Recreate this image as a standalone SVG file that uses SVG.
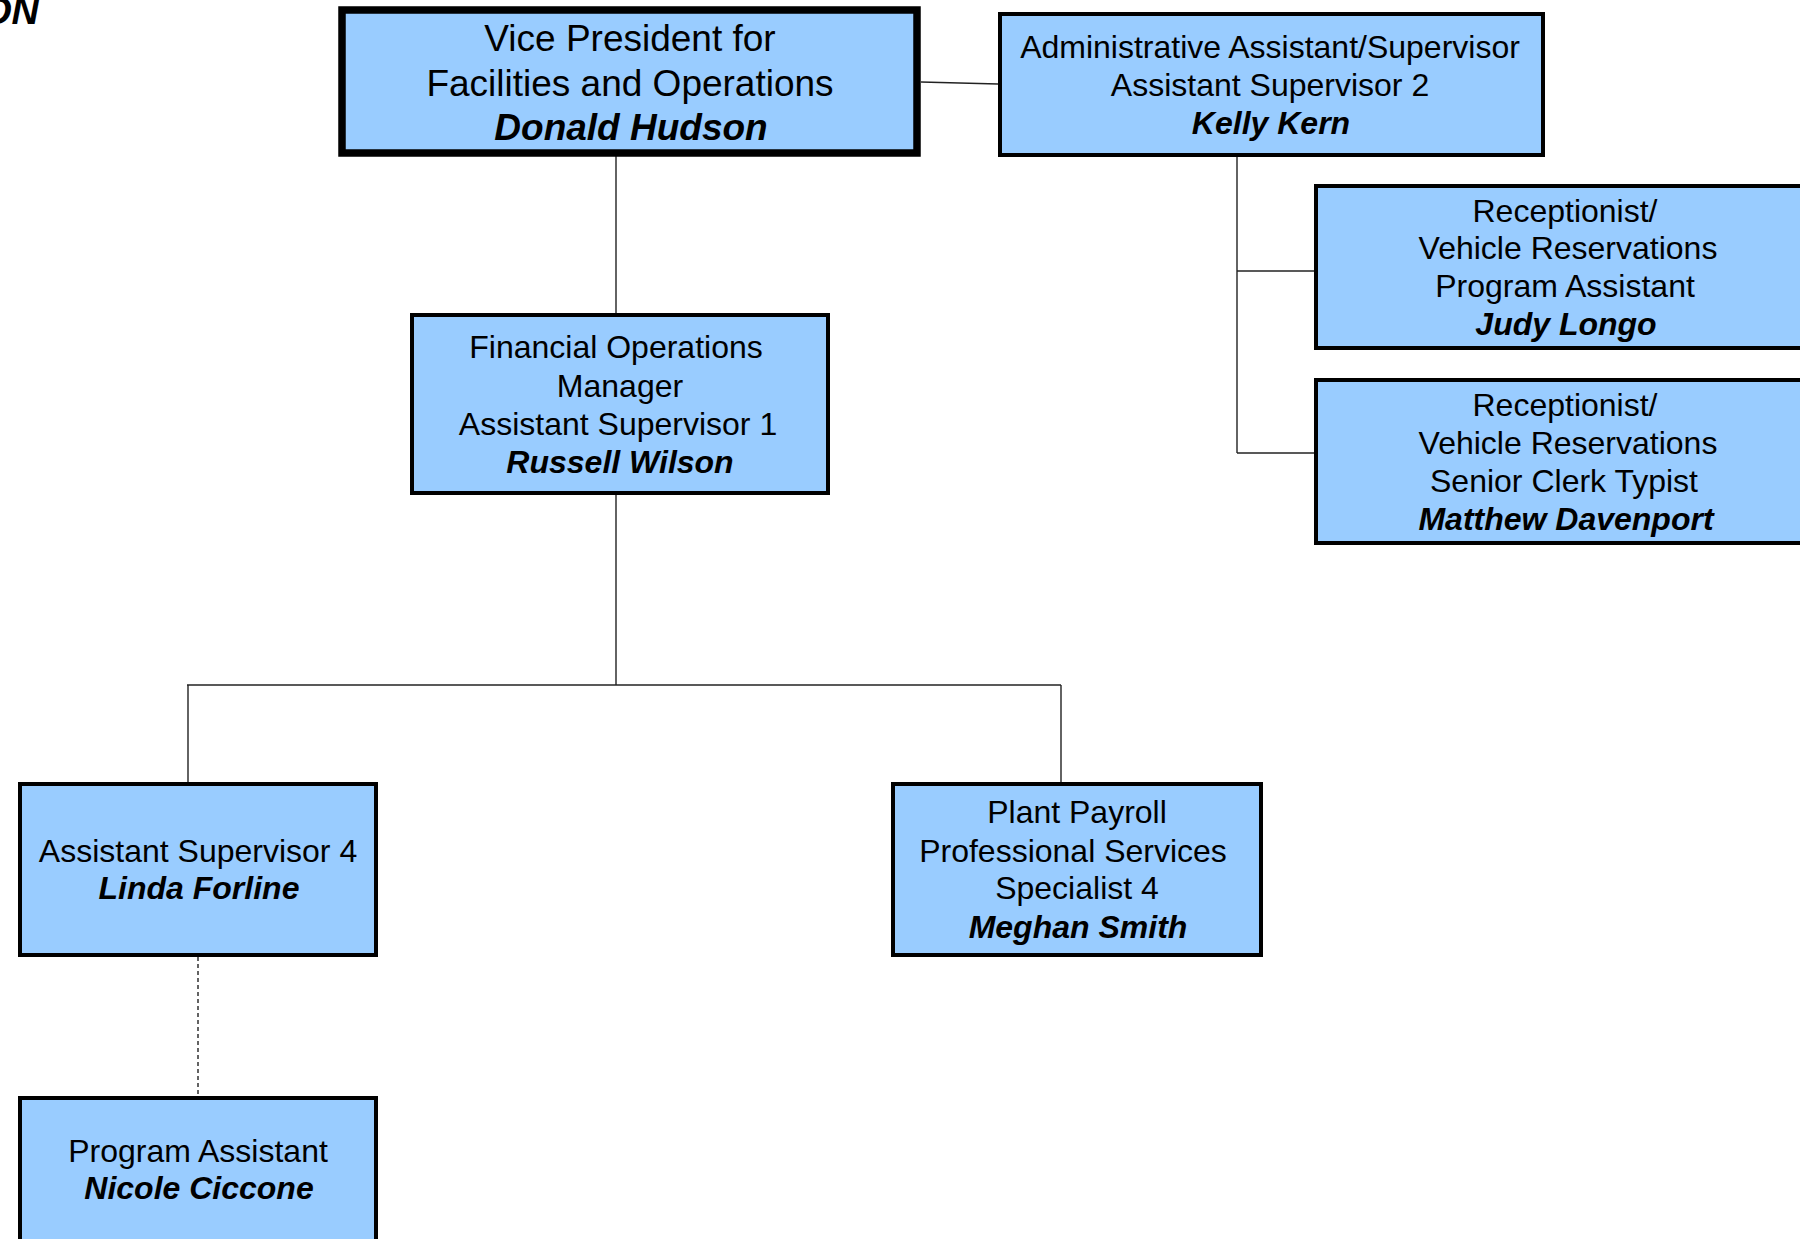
<svg xmlns="http://www.w3.org/2000/svg" width="1800" height="1239" viewBox="0 0 1800 1239">
<style>
  .box { fill: #99CCFF; stroke: #000; stroke-width: 4; }
  .vp { stroke-width: 7.5; }
  .t { font-family: "Liberation Sans", Arial, sans-serif; font-size: 32px; fill: #000; text-anchor: middle; }
  .vt { font-size: 37px; }
  .n { font-weight: bold; font-style: italic; }
  .c { stroke: #222; stroke-width: 1.4; fill: none; }
  .d { stroke-dasharray: 4 3; }
</style>
<rect width="1800" height="1239" fill="#fff"/>
<text x="39" y="24" class="t n" style="font-size:38px;text-anchor:end">ON</text>
<g id="connectors">
  <line class="c" x1="921" y1="82" x2="998" y2="84"/>
  <line class="c" x1="616" y1="156" x2="616" y2="313"/>
  <line class="c" x1="1237" y1="157" x2="1237" y2="453"/>
  <line class="c" x1="1237" y1="271" x2="1314" y2="271"/>
  <line class="c" x1="1237" y1="453" x2="1314" y2="453"/>
  <line class="c" x1="616" y1="495" x2="616" y2="685"/>
  <line class="c" x1="187" y1="685" x2="1061" y2="685"/>
  <line class="c" x1="188" y1="685" x2="188" y2="782"/>
  <line class="c" x1="1061" y1="685" x2="1061" y2="782"/>
  <line class="c d" x1="198" y1="957" x2="198" y2="1096"/>
</g>
<g id="vp">
  <rect class="box vp" x="342" y="10" width="575" height="143"/>
  <text class="t vt" x="630" y="51">Vice President for</text>
  <text class="t vt" x="630" y="96">Facilities and Operations</text>
  <text class="t vt n" x="631" y="140">Donald Hudson</text>
</g>
<g id="kelly">
  <rect class="box" x="1000" y="14" width="543" height="141"/>
  <text class="t" x="1270" y="58">Administrative Assistant/Supervisor</text>
  <text class="t" x="1270" y="96">Assistant Supervisor 2</text>
  <text class="t n" x="1271" y="134">Kelly Kern</text>
</g>
<g id="judy">
  <rect class="box" x="1316" y="186" width="520" height="162"/>
  <text class="t" x="1565" y="222">Receptionist/</text>
  <text class="t" x="1568" y="259">Vehicle Reservations</text>
  <text class="t" x="1565" y="297">Program Assistant</text>
  <text class="t n" x="1566" y="335">Judy Longo</text>
</g>
<g id="matthew">
  <rect class="box" x="1316" y="380" width="520" height="163"/>
  <text class="t" x="1565" y="416">Receptionist/</text>
  <text class="t" x="1568" y="454">Vehicle Reservations</text>
  <text class="t" x="1564" y="492">Senior Clerk Typist</text>
  <text class="t n" x="1566" y="530">Matthew Davenport</text>
</g>
<g id="russell">
  <rect class="box" x="412" y="315" width="416" height="178"/>
  <text class="t" x="616" y="358">Financial Operations</text>
  <text class="t" x="620" y="397">Manager</text>
  <text class="t" x="618" y="435">Assistant Supervisor 1</text>
  <text class="t n" x="620" y="473">Russell Wilson</text>
</g>
<g id="linda">
  <rect class="box" x="20" y="784" width="356" height="171"/>
  <text class="t" x="198" y="862">Assistant Supervisor 4</text>
  <text class="t n" x="199" y="899">Linda Forline</text>
</g>
<g id="meghan">
  <rect class="box" x="893" y="784" width="368" height="171"/>
  <text class="t" x="1077" y="823">Plant Payroll</text>
  <text class="t" x="1073" y="862">Professional Services</text>
  <text class="t" x="1077" y="899">Specialist 4</text>
  <text class="t n" x="1078" y="938">Meghan Smith</text>
</g>
<g id="nicole">
  <rect class="box" x="20" y="1098" width="356" height="171"/>
  <text class="t" x="198" y="1162">Program Assistant</text>
  <text class="t n" x="199" y="1199">Nicole Ciccone</text>
</g>
</svg>
